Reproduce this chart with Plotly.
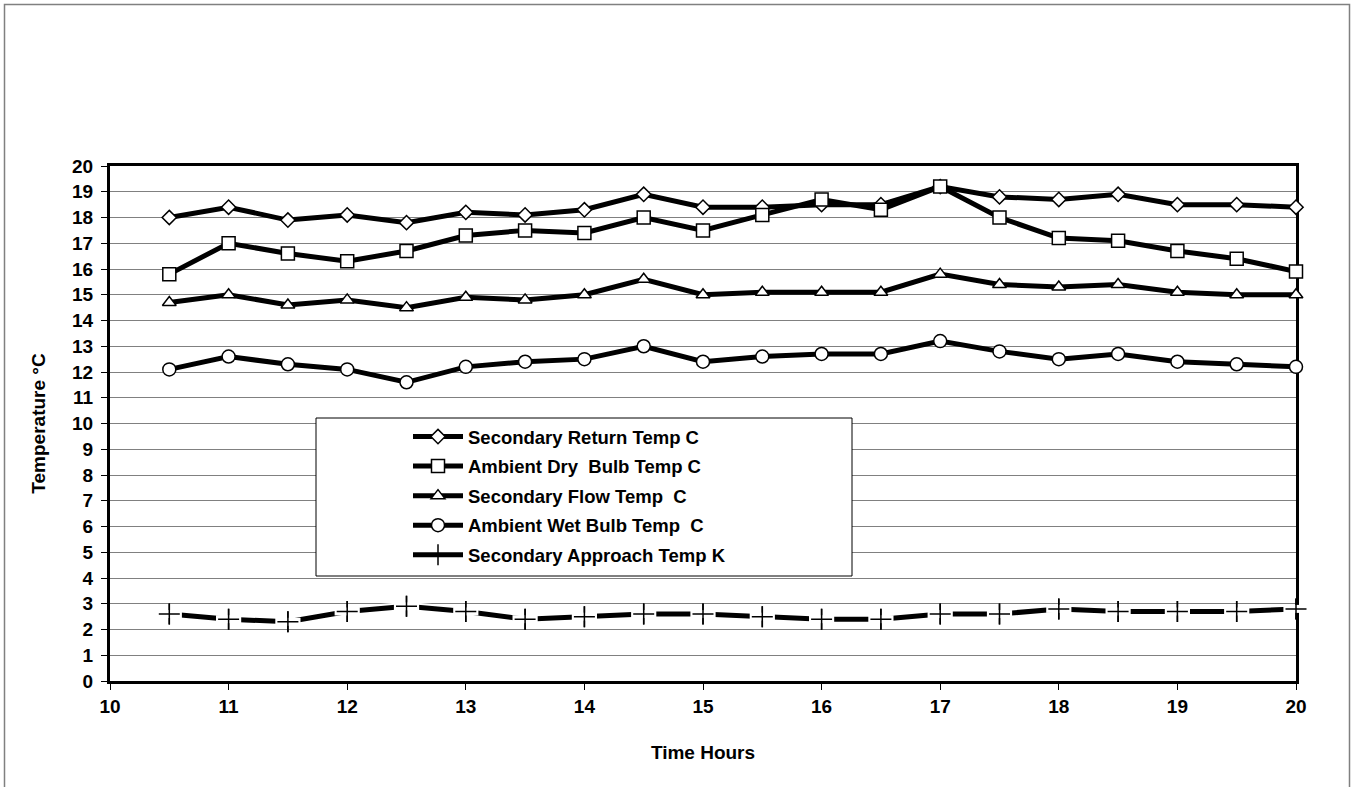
import plotly.graph_objects as go

hours = [10.5, 11, 11.5, 12, 12.5, 13, 13.5, 14, 14.5, 15, 15.5, 16, 16.5, 17, 17.5, 18, 18.5, 19, 19.5, 20]

sec_return = [18.0, 18.4, 17.9, 18.1, 17.8, 18.2, 18.1, 18.3, 18.9, 18.4, 18.4, 18.5, 18.5, 19.2, 18.8, 18.7, 18.9, 18.5, 18.5, 18.4]
amb_dry = [15.8, 17.0, 16.6, 16.3, 16.7, 17.3, 17.5, 17.4, 18.0, 17.5, 18.1, 18.7, 18.3, 19.2, 18.0, 17.2, 17.1, 16.7, 16.4, 15.9]
sec_flow = [14.7, 15.0, 14.6, 14.8, 14.5, 14.9, 14.8, 15.0, 15.6, 15.0, 15.1, 15.1, 15.1, 15.8, 15.4, 15.3, 15.4, 15.1, 15.0, 15.0]
amb_wet = [12.1, 12.6, 12.3, 12.1, 11.6, 12.2, 12.4, 12.5, 13.0, 12.4, 12.6, 12.7, 12.7, 13.2, 12.8, 12.5, 12.7, 12.4, 12.3, 12.2]
sec_approach = [2.6, 2.4, 2.3, 2.7, 2.9, 2.7, 2.4, 2.5, 2.6, 2.6, 2.5, 2.4, 2.4, 2.6, 2.6, 2.8, 2.7, 2.7, 2.7, 2.8]

names = ["Secondary Return Temp C", "Ambient Dry  Bulb Temp C", "Secondary Flow Temp  C",
         "Ambient Wet Bulb Temp  C", "Secondary Approach Temp K"]

FONT = "Liberation Sans, Arial, sans-serif"

W, H = 1352, 787
L, R, T, B = 110, 56, 166, 106
pw, ph = W - L - R, H - T - B

def px2x(p):
    return (p - L) / pw

def px2y(p):
    return (H - B - p) / ph

fig = go.Figure()

series = [
    (sec_return, "diamond", 11),
    (amb_dry, "square", 13),
    (sec_flow, "triangle-up", 12),
    (amb_wet, "circle", 13),
]
for i, (vals, sym, sz) in enumerate(series):
    fig.add_trace(go.Scatter(
        x=hours, y=vals, name=names[i], mode="lines+markers",
        line=dict(color="black", width=5),
        marker=dict(symbol=sym, size=sz, color="white", line=dict(color="black", width=1.5)),
        cliponaxis=False, legendgroup=f"g{i}"))

# approach series: white halo, black line, white gaps at markers, crosses
fig.add_trace(go.Scatter(x=hours, y=sec_approach, mode="lines",
                         line=dict(color="white", width=9), showlegend=False,
                         hoverinfo="skip", cliponaxis=False, legendgroup="g4"))
fig.add_trace(go.Scatter(
    x=hours, y=sec_approach, name=names[4], mode="lines+markers",
    line=dict(color="black", width=5),
    marker=dict(symbol="cross-thin-open", size=15, color="black", line=dict(color="black", width=1.5)),
    cliponaxis=False, legendgroup="g4"))
fig.add_trace(go.Scatter(
    x=hours, y=sec_approach, mode="markers", showlegend=False, hoverinfo="skip",
    marker=dict(symbol="line-ew", size=18, color="white", line=dict(color="white", width=8)),
    cliponaxis=False, legendgroup="g4"))
fig.add_trace(go.Scatter(
    x=hours, y=sec_approach, mode="markers", showlegend=False,
    marker=dict(symbol="cross-thin-open", size=15, color="black", line=dict(color="black", width=1.5)),
    cliponaxis=False, legendgroup="g4"))

axis_common = dict(
    showline=True, linecolor="black", linewidth=3, mirror=True,
    ticks="outside", ticklen=6, tickwidth=1, tickcolor="black",
    tickfont=dict(family=FONT, size=19, color="black", weight="bold"),
    zeroline=False, layer="below traces",
)

fig.update_xaxes(range=[10, 20], dtick=1, tick0=10, showgrid=False,
                 title=dict(text="Time Hours", font=dict(family=FONT, size=19, color="black", weight="bold"),
                            standoff=30),
                 **axis_common)
fig.update_yaxes(range=[0, 20], dtick=1, tick0=0, showgrid=True, gridcolor="#808080", gridwidth=1,
                 ticklabelstandoff=4,
                 title=dict(text="Temperature \u00b0C", font=dict(family=FONT, size=19, color="black", weight="bold"),
                            standoff=22),
                 **axis_common)

fig.update_layout(
    width=W, height=H,
    margin=dict(l=L, r=R, t=T, b=B),
    paper_bgcolor="white", plot_bgcolor="white",
    font=dict(family=FONT, color="black"),
    showlegend=True,
    legend=dict(
        x=px2x(408), y=px2y(418), xanchor="left", yanchor="top",
        bgcolor="rgba(0,0,0,0)", borderwidth=0,
        font=dict(family=FONT, size=18.5, color="black", weight="bold"),
        itemwidth=50, tracegroupgap=2.5, traceorder="grouped",
    ),
    shapes=[
        dict(type="rect", xref="paper", yref="paper",
             x0=px2x(316), x1=px2x(852), y0=px2y(576), y1=px2y(418),
             line=dict(color="black", width=1), fillcolor="white", layer="above"),
        dict(type="rect", xref="paper", yref="paper",
             x0=px2x(4.5), x1=px2x(1349.5), y0=px2y(820), y1=px2y(4.5),
             line=dict(color="#808080", width=1.5), fillcolor="rgba(0,0,0,0)", layer="below"),
    ],
)

fig.write_html("out.html", config={"displayModeBar": False},
               post_script="document.body.style.margin='0';document.body.style.padding='0';")
